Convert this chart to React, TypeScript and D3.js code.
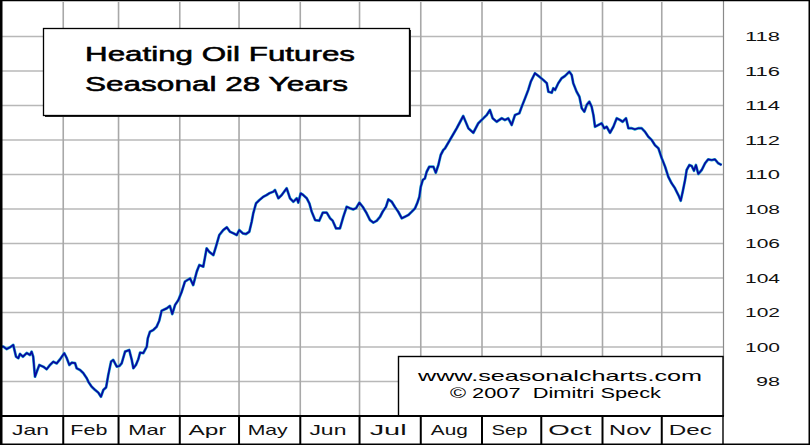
import React from 'react';
import * as d3 from 'd3';

// ---------- data ----------
const monthLabels = ['Jan', 'Feb', 'Mar', 'Apr', 'May', 'Jun', 'Jul', 'Aug', 'Sep', 'Oct', 'Nov', 'Dec'];
const yTicks = [98, 100, 102, 104, 106, 108, 110, 112, 114, 116, 118];
const titleLines = ['Heating Oil Futures', 'Seasonal 28 Years'];
const creditLines = ['www.seasonalcharts.com', '\u00A9 2007  Dimitri Speck'];

// day of year (0 = Jan 1)
const days = [
  0, 0.7, 2.4, 4.05, 5.7, 7.1, 8.25, 9.1, 10.6, 12.5, 14.2, 15.0, 15.8, 16.7, 17.6, 18.9, 20.9, 22.6, 24.3, 26.0,
  27.7, 29.4, 31.5, 32.8, 34.1, 35.3, 37.0, 37.8, 39.5, 41.2, 42.9, 43.7, 45.4, 47.1, 48.8, 50.1, 51.3, 52.7, 53.8, 55.2,
  56.3, 58.1, 59.4, 60.6, 62.3, 64.4, 65.7, 66.5, 67.8, 69.0, 69.9, 71.5, 73.3, 73.8, 74.9, 76.6, 78.3, 79.6, 80.8, 83.4,
  85.0, 86.2, 87.6, 89.3,
  91.0, 92.6, 95.2, 96.8, 98.6, 99.9, 101.9, 103.6, 104.9, 107.0, 108.3, 110.0, 112.0, 113.8, 115.4, 117.1, 118.8, 120.1,
  121.9, 123.5, 125.2, 126.4, 127.2, 128.6, 130.3, 132.3, 134.0, 135.3,
  137.3, 138.2, 139.9, 141.6, 144.1, 145.8, 147.5, 149.2, 150.0, 151.2, 152.5, 154.3, 155.6, 156.8, 158.5, 160.6, 162.4,
  164.4, 166.1, 167.4, 169.1, 171.1, 172.8, 174.5, 176.2, 177.8, 179.2, 180.9, 182.6, 184.6, 186.3, 188.0, 189.7, 191.4,
  192.7, 194.4, 195.6, 197.3, 199.0, 200.6, 202.4, 204.0, 205.7, 207.4, 209.1, 210.3, 211.3, 212.0, 213.0, 214.1, 215.0,
  216.3, 218.4, 219.6, 220.9, 222.1, 223.4,
  224.3, 227.7, 230.2, 233.5, 236.1, 238.6, 241.1, 243.7, 245.4, 247.0, 248.4, 250.4, 253.0, 254.6, 256.3, 258.0, 259.7,
  261.9, 263.1, 264.8, 266.4, 267.7, 269.8, 272.0,
  274.0, 275.8, 276.6, 278.3, 279.1, 280.0, 281.6, 283.3, 285.0, 287.2, 288.4, 289.2, 290.9, 292.3, 293.5, 294.8, 296.0,
  297.3, 298.5, 299.4, 300.2, 301.9, 303.6, 304.9, 306.1, 307.8, 309.5, 311.2, 312.9, 314.2, 315.9, 317.1, 318.8, 320.4,
  322.1, 323.8, 325.5, 327.2, 328.9, 330.5, 332.3,
  334.0, 335.7, 337.3, 339.0, 340.7, 342.4, 343.6, 344.6, 345.8, 346.6, 348.0, 349.2, 350.3, 351.3, 352.5, 354.2, 355.9,
  357.5, 359.3, 360.9, 362.6, 364.3,
];

const prices = [
  100.02, 100.02, 99.88, 99.98, 100.12, 99.44, 99.35, 99.6, 99.44, 99.65, 99.54, 99.73, 99.44, 98.28, 98.57, 98.96, 98.86,
  98.71, 98.96, 99.15, 99.05, 99.29, 99.64, 99.35, 98.96, 99.09, 99.06, 98.77, 98.67, 98.48, 98.19, 97.99, 97.7, 97.51,
  97.35, 97.12, 97.51, 97.66, 98.38, 99.15, 99.25, 98.86, 98.9, 99.06, 99.73, 99.83, 99.25, 98.77, 98.96, 99.29, 99.67,
  99.64, 100.02, 100.5, 100.89, 100.99, 101.18, 101.52, 102.1, 102.24, 102.38, 101.91, 102.43, 102.72,
  103.21, 103.79, 103.98, 103.59, 104.37, 104.75, 104.66, 105.72, 105.52, 105.33, 105.81, 106.49, 106.78, 106.94, 106.68,
  106.59, 106.49, 106.78, 106.59, 106.55, 106.68, 107.26, 107.75, 108.33, 108.52, 108.71, 108.81, 108.91,
  109.0, 109.1, 108.62, 108.81, 109.2, 108.62, 108.42, 108.62, 108.37, 108.91, 108.81, 108.62, 108.33, 107.84, 107.36,
  107.32, 107.79, 107.79, 107.46, 107.32, 106.88, 106.88, 107.55, 108.13, 108.04, 107.98, 108.04, 108.37, 108.13, 107.75,
  107.36, 107.21, 107.32, 107.55, 107.84, 108.13, 108.56, 108.42, 108.1, 107.84, 107.46, 107.55, 107.65, 107.84, 108.04,
  108.37, 108.71, 109.29, 109.68, 109.78, 110.16, 110.45, 110.45, 110.1, 110.55, 111.13, 111.42,
  111.52, 112.19, 112.68, 113.39, 112.68, 112.42, 112.97, 113.26, 113.45, 113.74, 113.26, 113.06, 113.26, 113.16, 113.26,
  112.87, 113.45, 113.55, 113.93, 114.42, 114.9, 115.38, 115.87, 115.67,
  115.48, 115.29, 114.8, 114.74, 115.0, 114.9, 115.29, 115.58, 115.71, 115.96, 115.77, 115.29, 114.8, 114.51, 113.84,
  113.64, 114.03, 114.22, 113.93, 113.45, 112.77, 112.87, 112.97, 112.68, 112.77, 112.42, 112.77, 113.26, 113.16, 113.06,
  113.26, 112.68, 112.68, 112.62, 112.68, 112.68, 112.48, 112.19, 112.0, 111.71, 111.52,
  110.94, 110.45, 109.87, 109.49, 109.2, 108.81, 108.48, 109.0, 109.68, 110.26, 110.55, 110.49, 110.22, 110.55, 110.03,
  110.26, 110.65, 110.88, 110.84, 110.88, 110.65, 110.55,
];

// ---------- layout / style ----------
const W = 810;
const H = 445;
const PL = 2;
const PR = 723;
const PT = 2;
const PB = 416;
const FONT = '"Liberation Sans", Arial, sans-serif';
const monthLabelWidths = [37, 37, 38, 38, 40, 37, 37, 37, 36, 43, 42, 43];

export default function App() {
  const start = new Date(Date.UTC(2007, 0, 1));
  const end = new Date(Date.UTC(2008, 0, 1));
  const x = d3.scaleUtc().domain([start, end]).range([PL, PR]);
  const y = d3.scaleLinear().domain([96, 120]).range([PB, PT]);
  const bounds = [...d3.utcMonth.range(start, end), end];

  const pts: [number, number][] = days.map((d, i) => [
    x(new Date(start.getTime() + d * 864e5)),
    y(prices[i]),
  ]);
  const linePath = d3.line()(pts) || '';

  return (
    <svg
      width={W}
      height={H}
      style={{ position: 'absolute', left: 0, top: 0, background: '#fff' }}
      fontFamily={FONT}
    >
      <rect x={0} y={0} width={W} height={H} fill="#fff" />
      {/* horizontal grid */}
      {yTicks.map((t) => (
        <line key={'h' + t} x1={PL} x2={PR} y1={y(t)} y2={y(t)} stroke="#b8b8b8" strokeWidth={1.5} />
      ))}
      {/* vertical grid */}
      {bounds.slice(1, -1).map((b, i) => (
        <line key={'v' + i} x1={x(b)} x2={x(b)} y1={PT} y2={PB} stroke="#a8a8a8" strokeWidth={1.6} />
      ))}
      {/* right panel divider */}
      <line x1={PR + 0.5} x2={PR + 0.5} y1={0} y2={PB} stroke="#8a8a8a" strokeWidth={1.2} />

      {/* title box */}
      <rect x={45} y={30} width={366} height={87} fill="#222" />
      <rect x={43.5} y={28.5} width={366} height={87} fill="#fff" stroke="#000" strokeWidth={1.3} />
      {titleLines.map((t, i) => (
        <text
          key={t}
          x={85}
          y={61 + i * 30}
          fontSize={21}
          fill="#000"
          stroke="#000"
          strokeWidth={0.55}
          textLength={i === 0 ? 270 : 263}
          lengthAdjust="spacingAndGlyphs"
          style={{ whiteSpace: 'pre' }}
        >
          {t}
        </text>
      ))}

      {/* data line */}
      <path d={linePath} fill="none" stroke="#22a8cc" strokeWidth={2.8} strokeLinejoin="round" />
      <path d={linePath} fill="none" stroke="#0808a0" strokeWidth={1.7} strokeLinejoin="round" />

      {/* credit box */}
      <rect x={398.5} y={356.5} width={PR - 398.5} height={PB - 356.5} fill="#fff" stroke="#000" strokeWidth={1.4} />
      {creditLines.map((t, i) => (
        <text
          key={t}
          x={i === 0 ? 418 : 450}
          y={i === 0 ? 380.5 : 398}
          fontSize={14.5}
          fill="#000"
          textLength={i === 0 ? 284 : 211}
          lengthAdjust="spacingAndGlyphs"
          style={{ whiteSpace: 'pre' }}
        >
          {t}
        </text>
      ))}

      {/* month row */}
      <rect x={PL} y={PB} width={PR - PL} height={H - PB} fill="#fff" />
      <line x1={PL} x2={PR + 1} y1={PB} y2={PB} stroke="#000" strokeWidth={2} />
      {bounds.slice(1).map((b, i) => (
        <line key={'s' + i} x1={x(b)} x2={x(b)} y1={PB} y2={H} stroke="#000" strokeWidth={i === 11 ? 1.4 : 2} />
      ))}
      {monthLabels.map((m, i) => {
        const cx = (x(bounds[i]) + x(bounds[i + 1])) / 2 - 2;
        const w = monthLabelWidths[i];
        return (
          <text
            key={m}
            x={cx - w / 2}
            y={435}
            fontSize={14.5}
            fill="#111"
            textLength={w}
            lengthAdjust="spacingAndGlyphs"
          >
            {m}
          </text>
        );
      })}

      {/* right axis labels */}
      {yTicks.map((t) => {
        const s = String(t);
        const w = s.length === 3 ? 35 : 24;
        return (
          <text
            key={'l' + t}
            x={780 - w}
            y={y(t) + 4.8}
            fontSize={13.5}
            fill="#111"
            textLength={w}
            lengthAdjust="spacingAndGlyphs"
          >
            {s}
          </text>
        );
      })}

      {/* outer frame */}
      <line x1={0} x2={W} y1={0.5} y2={0.5} stroke="#000" strokeWidth={1.5} />
      <rect x={0} y={0} width={2.5} height={H} fill="#000" />
      <line x1={W - 0.75} x2={W - 0.75} y1={0} y2={H} stroke="#000" strokeWidth={1.5} />
      <line x1={0} x2={W} y1={H - 0.75} y2={H - 0.75} stroke="#000" strokeWidth={1.5} />
    </svg>
  );
}
